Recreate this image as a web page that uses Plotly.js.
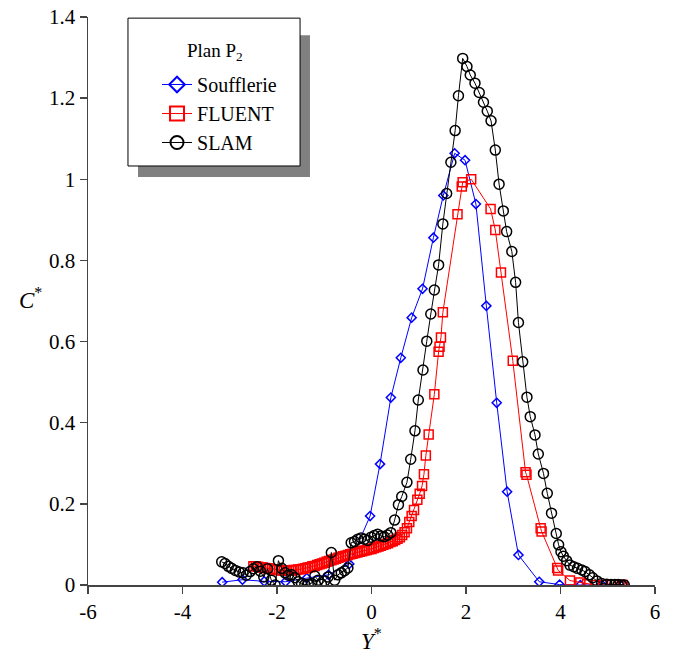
<!DOCTYPE html>
<html>
<head>
<meta charset="utf-8">
<script src="https://cdn.plot.ly/plotly-3.0.1.min.js"></script>
<style>html,body{margin:0;padding:0;background:#fff;}#chart{width:673px;height:659px;}</style>
</head>
<body>
<div id="chart"></div>
<script>
// Soufflerie (wind tunnel)
const soufX = [-3.16,-2.73,-2.27,-1.82,-1.37,-0.91,-0.47,-0.03,0.18,0.41,0.62,0.85,1.08,1.31,1.52,1.76,1.98,2.21,2.43,2.65,2.87,3.11,3.55,3.98,4.42,4.87,5.33];
const soufY = [0.007,0.013,0.009,0.008,0.017,0.025,0.052,0.170,0.298,0.462,0.560,0.659,0.730,0.856,0.960,1.064,1.047,0.939,0.688,0.449,0.230,0.074,0.008,0.001,0.000,0.001,0.001];

// FLUENT
const fluentX = [-2.50,-2.45,-2.40,-2.35,-2.30,-2.25,-2.20,-2.15,-2.10,-2.05,-2.00,-1.95,-1.90,-1.85,-1.80,-1.75,-1.70,-1.65,-1.60,-1.55,-1.50,-1.45,-1.40,-1.35,-1.30,-1.25,-1.20,-1.15,-1.10,-1.05,-1.00,-0.95,-0.90,-0.85,-0.80,-0.75,-0.70,-0.65,-0.60,-0.55,-0.50,-0.45,-0.40,-0.35,-0.30,-0.25,-0.20,-0.15,-0.10,-0.05,0.00,0.05,0.10,0.15,0.20,0.25,0.30,0.35,0.40,0.45,0.50,0.55,0.60,0.65,0.70,0.75,0.80,0.85,0.90,0.97,1.02,1.07,1.11,1.15,1.21,1.33,1.42,1.44,1.47,1.51,1.82,1.91,1.93,2.11,2.52,2.62,2.74,2.99,3.26,3.28,3.58,3.60,3.93,3.95,4.20,4.42,4.56,4.73,4.90,5.15,5.25,5.32];
const fluentY = [0.046,0.046,0.045,0.044,0.043,0.042,0.041,0.040,0.039,0.038,0.037,0.037,0.036,0.036,0.035,0.036,0.036,0.037,0.037,0.038,0.039,0.040,0.041,0.043,0.044,0.046,0.047,0.049,0.051,0.053,0.055,0.057,0.059,0.061,0.063,0.065,0.067,0.069,0.071,0.072,0.074,0.076,0.077,0.079,0.080,0.082,0.083,0.085,0.086,0.088,0.089,0.091,0.093,0.095,0.097,0.099,0.101,0.103,0.106,0.108,0.111,0.114,0.118,0.123,0.130,0.140,0.155,0.170,0.185,0.210,0.225,0.244,0.273,0.319,0.371,0.470,0.575,0.587,0.610,0.672,0.914,0.982,0.993,1.000,0.927,0.875,0.770,0.553,0.278,0.272,0.140,0.132,0.042,0.036,0.011,0.006,0.002,0.000,0.000,0.000,0.000,0.000];

// SLAM
const slamX = [-3.17,-3.10,-3.03,-2.96,-2.88,-2.80,-2.72,-2.65,-2.57,-2.50,-2.42,-2.35,-2.28,-2.20,-2.12,-2.04,-1.97,-1.90,-1.83,-1.76,-1.69,-1.62,-1.55,-1.48,-1.41,-1.34,-1.27,-1.20,-1.13,-1.06,-0.99,-0.92,-0.85,-0.78,-0.71,-0.64,-0.57,-0.50,-0.43,-0.36,-0.29,-0.22,-0.15,-0.08,-0.01,0.06,0.13,0.20,0.27,0.34,0.41,0.49,0.57,0.64,0.75,0.83,0.92,0.99,1.09,1.17,1.255,1.33,1.42,1.51,1.59,1.68,1.77,1.84,1.93,2.02,2.09,2.19,2.28,2.37,2.45,2.53,2.62,2.70,2.79,2.86,2.97,3.05,3.11,3.20,3.29,3.36,3.46,3.53,3.64,3.72,3.81,3.91,3.96,4.01,4.06,4.13,4.20,4.28,4.36,4.45,4.52,4.61,4.68,4.77,4.87,4.98,5.07,5.15,5.22,5.29,5.35];
const slamY = [0.057,0.053,0.046,0.041,0.036,0.032,0.030,0.024,0.033,0.040,0.045,0.034,0.020,0.040,0.012,0.000,0.060,0.041,0.030,0.024,0.025,0.018,0.008,0.004,0.001,0.002,0.004,0.022,0.012,0.002,0.010,0.020,0.080,0.012,0.025,0.030,0.035,0.042,0.104,0.107,0.113,0.116,0.113,0.110,0.118,0.122,0.125,0.121,0.119,0.123,0.129,0.160,0.198,0.218,0.253,0.310,0.380,0.456,0.530,0.601,0.668,0.727,0.789,0.890,0.965,1.042,1.120,1.206,1.298,1.278,1.257,1.237,1.214,1.190,1.168,1.144,1.072,0.988,0.922,0.871,0.822,0.746,0.647,0.550,0.463,0.415,0.370,0.323,0.275,0.226,0.177,0.127,0.099,0.082,0.071,0.060,0.049,0.045,0.041,0.037,0.033,0.025,0.018,0.010,0.004,0.002,0.001,0.001,0.001,0.000,0.000];

const xTicks = [-6,-4,-2,0,2,4,6];
const yTicks = [0,0.2,0.4,0.6,0.8,1,1.2,1.4];
const seriesNames = ['Soufflerie','FLUENT','SLAM'];
const legendTitle = 'Plan P<sub>2</sub>';

const FONT = 'Liberation Serif';

const traces = [
  {x: soufX, y: soufY, name: seriesNames[0], mode: 'lines+markers', showlegend: false,
   line: {color: '#0000ff', width: 1},
   marker: {symbol: 'diamond-open', size: 7, color: '#0000ff', line: {width: 1.5, color: '#0000ff'}}},
  {x: fluentX, y: fluentY, name: seriesNames[1], mode: 'lines+markers', showlegend: false,
   line: {color: '#ff0000', width: 1},
   marker: {symbol: 'square-open', size: 9, color: '#ff0000', line: {width: 1.5, color: '#ff0000'}}},
  {x: slamX, y: slamY, name: seriesNames[2], mode: 'lines+markers', showlegend: false,
   line: {color: '#000000', width: 1},
   marker: {symbol: 'circle-open', size: 10, color: '#000000', line: {width: 1.5, color: '#000000'}}},
  // legend entries (no data drawn)
  {x: [null], y: [null], name: seriesNames[0], mode: 'lines+markers', legendgroup: 'a',
   line: {color: '#0000ff', width: 1},
   marker: {symbol: 'diamond-open', size: 12, color: '#0000ff', line: {width: 2, color: '#0000ff'}}},
  {x: [null], y: [null], name: seriesNames[1], mode: 'lines+markers', legendgroup: 'b',
   line: {color: '#ff0000', width: 1},
   marker: {symbol: 'square-open', size: 14, color: '#ff0000', line: {width: 2, color: '#ff0000'}}},
  {x: [null], y: [null], name: seriesNames[2], mode: 'lines+markers', legendgroup: 'c',
   line: {color: '#000000', width: 1},
   marker: {symbol: 'circle-open', size: 13, color: '#000000', line: {width: 2, color: '#000000'}}}
];

const layout = {
  width: 673, height: 659,
  margin: {l: 88, r: 18, t: 17, b: 74},
  paper_bgcolor: '#ffffff', plot_bgcolor: '#ffffff',
  font: {family: FONT, size: 19, color: '#000'},
  showlegend: true,
  xaxis: {
    range: [-6, 6], tickvals: xTicks, ticktext: xTicks.map(String),
    showgrid: false, zeroline: false, showline: true, linecolor: '#444', linewidth: 1.5,
    ticks: 'outside', ticklen: 7, tickcolor: '#444', tickwidth: 1.5,
    tickfont: {family: FONT, size: 21, color: '#000'}
  },
  yaxis: {
    range: [0, 1.4], tickvals: yTicks, ticktext: yTicks.map(String),
    showgrid: false, zeroline: false, showline: true, linecolor: '#444', linewidth: 1.5,
    ticks: 'outside', ticklen: 7, tickcolor: '#444', tickwidth: 1.5,
    tickfont: {family: FONT, size: 21, color: '#000'}
  },
  legend: {
    x: 0.1217, y: 0.9155, xanchor: 'left', yanchor: 'top',
    bgcolor: 'rgba(0,0,0,0)', borderwidth: 0,
    font: {family: FONT, size: 20, color: '#000'},
    tracegroupgap: 0
  },
  shapes: [
    {type: 'rect', xref: 'paper', yref: 'paper', x0: 0.0882, x1: 0.3915, y0: 0.7183, y1: 0.968,
     fillcolor: '#808080', line: {width: 0}, layer: 'above'},
    {type: 'rect', xref: 'paper', yref: 'paper', x0: 0.0705, x1: 0.374, y0: 0.7377, y1: 0.998,
     fillcolor: '#ffffff', line: {width: 1, color: '#000'}, layer: 'above'}
  ],
  annotations: [
    {xref: 'paper', yref: 'paper', x: 0.224, y: 0.938, xanchor: 'center', yanchor: 'middle', showarrow: false,
     text: legendTitle, font: {family: FONT, size: 19, color: '#000'}},
    {xref: 'paper', yref: 'paper', x: -0.102, y: 0.505, xanchor: 'center', yanchor: 'middle', showarrow: false,
     text: '<i>C</i><sup>*</sup>', font: {family: FONT, size: 23, color: '#000'}},
    {xref: 'paper', yref: 'paper', x: 0.5, y: -0.096, xanchor: 'center', yanchor: 'middle', showarrow: false,
     text: '<i>Y</i><sup>*</sup>', font: {family: FONT, size: 23, color: '#000'}}
  ]
};

Plotly.newPlot('chart', traces, layout, {displayModeBar: false, staticPlot: true});
</script>
</body>
</html>
